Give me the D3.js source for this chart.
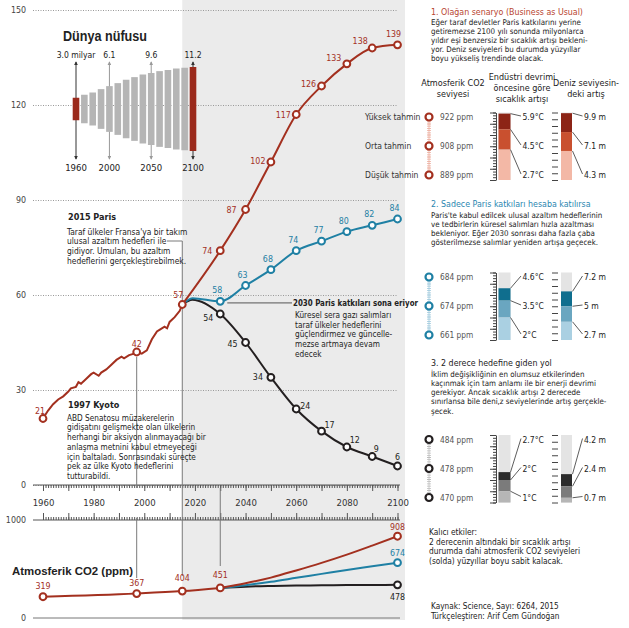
<!DOCTYPE html>
<html>
<head>
<meta charset="utf-8">
<script src="https://cdnjs.cloudflare.com/ajax/libs/d3/7.8.5/d3.min.js"></script>
<style>
  body { margin: 0; background: #fff; }
  text { font-family: "Liberation Sans Narrow", "Arial Narrow", "DejaVu Sans Condensed", sans-serif; fill: #222; }
</style>
</head>
<body>
<div id="chart"></div>
<script>
// ---- data ----

// historical emissions (GtCO2)
var histYears  = [1960,1962,1964,1966,1968,1970,1971,1973,1974,1975,1977,1979,1980,1982,1983,1985,1987,1989,1991,1992,1994,1996,1997,1999,2001,2003,2005,2006,2008,2009,2010,2012,2014,2015];
var histValues = [21,23.5,25.5,27,28,29.5,30.5,31,32.5,32,33.5,35,35.5,34.5,35.5,36.5,38,39.5,40.5,40,41,41.5,42,41.5,42.5,46,48.5,49,50,49.5,51.5,53,55,57];
var histMarked = [1960, 1997, 2015];

// scenario 1: business as usual
var bauYears  = [2015,2030,2040,2050,2060,2070,2080,2090,2100];
var bauValues = [57,74,87,102,117,126,133,138,139];
// scenario 2: only Paris pledges
var parisYears  = [2015,2019,2030,2040,2050,2060,2070,2080,2090,2100];
var parisValues = [57,59,58,63,68,74,77,80,82,84];
// scenario 3: 2 degree path
var twoYears  = [2015,2019,2030,2040,2050,2060,2070,2080,2090,2100];
var twoValues = [57,58.5,54,45,34,24,17,12,9,6];

// atmospheric CO2 (ppm)
var co2HistYears  = [1960,1997,2015,2030];
var co2HistValues = [319,367,404,451];
var co2Years = [2030,2040,2050,2060,2070,2080,2090,2100];
var co2Bau   = [451,492,542,605,672,745,825,908];
var co2Paris = [451,475,505,540,575,610,642,674];
var co2Two   = [451,462,468,472,474,476,477,478];

// world population (billions)
var popYears  = [1960,1970,1980,1990,2000,2010,2020,2030,2040,2050,2060,2070,2080,2090,2100];
var popValues = [3.0,3.8,4.4,5.3,6.1,6.9,7.8,8.5,9.2,9.6,10.1,10.4,10.8,11.0,11.2];
var popMarked = [1960,2000,2050,2100];
var popMarkedLabels = ["3.0 milyar","6.1","9.6","11.2"];

// right panel: high / mid / low estimates per scenario
var scenarioCo2  = [[922,908,889],[684,674,661],[484,478,470]];
var scenarioTemp = [[5.9,4.5,2.7],[4.6,3.5,2],[2.7,2,1]];
var scenarioSea  = [[9.9,7.1,4.3],[7.2,5,2.7],[4.2,2.4,0.7]];
var estimateNames = ["Yüksek tahmin","Orta tahmin","Düşük tahmin"];

// label offsets [dx, dy]
var bauLabelOff   = [[-13,3],[-14,3],[-13,2],[-13,3],[-13,1],[-13,-3],[-12,-4],[-4,-8]];
var histLabelOff  = [[-3,-5],[0,-5],[-4,-7]];
var twoLabelOff   = [[-12,7],[-13,4],[-13,3],[9,0],[8,-3],[8,-4],[4,-5],[0,-6]];

var RED = "#a3301f", BLUE = "#1f80a4", BLACK = "#231f20";

var svg = d3.select("#chart").append("svg").attr("width", 629).attr("height", 628);

var defs = svg.append("defs");
[["arrDark","#333"],["arrGrey","#999"]].forEach(function(m) {
  defs.append("marker").attr("id", m[0]).attr("viewBox", "0 0 6 6")
    .attr("refX", 5).attr("refY", 3).attr("markerWidth", 4).attr("markerHeight", 4)
    .attr("orient", "auto-start-reverse")
    .append("path").attr("d", "M0,0L6,3L0,6Z").attr("fill", m[1]);
});

// scales
var x = d3.scaleLinear().domain([1960, 2100]).range([43, 397.5]);
var y = d3.scaleLinear().domain([0, 150]).range([485, 10]);
var yCo2 = d3.scaleLinear().domain([0, 450, 910, 1000]).range([618, 588, 536, 520]);

// grey future panel
svg.append("rect").attr("x", x(2015)).attr("y", 0)
  .attr("width", 405 - x(2015)).attr("height", 620).attr("fill", "#ebebeb");

// y gridlines
svg.append("g").attr("transform", "translate(33,0)")
  .call(d3.axisLeft(y).tickValues([0,30,60,90,120,150]).tickSize(-365).tickPadding(7))
  .call(function(g) {
    g.select(".domain").remove();
    g.selectAll(".tick line").attr("stroke", "#999").attr("stroke-dasharray", "1,1.5");
    g.selectAll(".tick text").attr("font-size", 8.8).style("fill", "#444");
  });

// main x axis (ticks down)
var axMain = svg.append("g").attr("transform", "translate(0,485)");
axMain.append("g").call(d3.axisBottom(x).tickValues(d3.range(1960, 2101, 1)).tickSize(3).tickFormat(""));
axMain.append("g").call(d3.axisBottom(x).tickValues(d3.range(1960, 2101, 10)).tickSize(6).tickFormat(""));
axMain.append("g").call(d3.axisBottom(x).tickValues(d3.range(1960, 2101, 20)).tickSize(0).tickPadding(14).tickFormat(d3.format("d")));
axMain.selectAll(".domain").remove();
axMain.selectAll("line").attr("stroke", "#555");
axMain.selectAll("text").attr("font-size", 9.5).style("fill", "#333");
svg.append("line").attr("x1", 33).attr("x2", 400).attr("y1", 485).attr("y2", 485).attr("stroke", "#555");

// CO2 axis (ticks up)
var axCo2 = svg.append("g").attr("transform", "translate(0,520)");
axCo2.append("g").call(d3.axisTop(x).tickValues(d3.range(1960, 2101, 1)).tickSize(3).tickFormat(""));
axCo2.append("g").call(d3.axisTop(x).tickValues(d3.range(1960, 2101, 10)).tickSize(7).tickFormat(""));
axCo2.selectAll(".domain").remove();
axCo2.selectAll("line").attr("stroke", "#555");
svg.append("line").attr("x1", 33).attr("x2", 400).attr("y1", 520).attr("y2", 520).attr("stroke", "#555");
svg.append("line").attr("x1", 33).attr("x2", 400).attr("y1", yCo2(0)).attr("y2", yCo2(0)).attr("stroke", "#777");
[0, 1000].forEach(function(v) {
  svg.append("text").attr("x", 26).attr("y", yCo2(v) + 3).attr("text-anchor", "end")
    .attr("font-size", 8.8).style("fill", "#444").text(v);
});

// event lines
var grey = "#7a7a7a";
svg.append("line").attr("x1", 167).attr("x2", x(2015)).attr("y1", 241).attr("y2", 241).attr("stroke", grey);
svg.append("line").attr("x1", x(2015)).attr("x2", x(2015)).attr("y1", 241).attr("y2", 576).attr("stroke", grey);
svg.append("line").attr("x1", x(1997)).attr("x2", x(1997)).attr("y1", 357).attr("y2", 488).attr("stroke", grey);
svg.append("line").attr("x1", x(1997)).attr("x2", x(1997)).attr("y1", 518).attr("y2", 578).attr("stroke", grey);
svg.append("line").attr("x1", x(2030)).attr("x2", x(2030)).attr("y1", 488).attr("y2", 566).attr("stroke", grey);
svg.append("line").attr("x1", x(2030) + 7).attr("x2", 292).attr("y1", y(57.5)).attr("y2", y(57.5)).attr("stroke", "#555");

// ---- population inset ----
var px = d3.scaleLinear().domain([1960, 2100]).range([76, 193]);
var ph = d3.scaleLinear().domain([0, 11.2]).range([0, 84]);
var popMid = 109;
popMarked.forEach(function(yr, i) {
  var dark = (yr === 1960 || yr === 2100);
  svg.append("line").attr("x1", px(yr)).attr("x2", px(yr)).attr("y1", 62).attr("y2", 159)
    .attr("stroke", dark ? "#333" : "#999")
    .attr("marker-start", dark ? "url(#arrDark)" : "url(#arrGrey)")
    .attr("marker-end", dark ? "url(#arrDark)" : "url(#arrGrey)");
  svg.append("text").attr("x", px(yr)).attr("y", 58).attr("text-anchor", "middle")
    .attr("font-size", 8.5).text(popMarkedLabels[i]);
  svg.append("text").attr("x", px(yr)).attr("y", 171).attr("text-anchor", "middle")
    .attr("font-size", 9.5).text(yr);
});
svg.selectAll(".popbar").data(popYears).enter().append("rect")
  .attr("x", function(d) { return px(d) - 3.3; })
  .attr("width", 6.6)
  .attr("y", function(d, i) { return popMid - ph(popValues[i]) / 2; })
  .attr("height", function(d, i) { return ph(popValues[i]); })
  .attr("fill", function(d, i) { return (i === 0 || i === popYears.length - 1) ? "#9b2a1c" : "#b5b5b5"; });
svg.append("text").attr("x", 63).attr("y", 41).attr("font-size", 14).attr("font-weight", "bold")
  .attr("textLength", 84).attr("lengthAdjust", "spacingAndGlyphs")
  .style("font-family", "'Liberation Sans', Arial, sans-serif").text("Dünya nüfusu");

// ---- emission lines ----
function zip(a, b) { return a.map(function(v, i) { return [v, b[i]]; }); }
var straight = d3.line().x(function(d) { return x(d[0]); }).y(function(d) { return y(d[1]); });
var smooth = d3.line().x(function(d) { return x(d[0]); }).y(function(d) { return y(d[1]); }).curve(d3.curveMonotoneX);

svg.append("path").attr("d", smooth(zip(twoYears, twoValues))).attr("fill", "none").attr("stroke", BLACK).attr("stroke-width", 2);
svg.append("path").attr("d", smooth(zip(parisYears, parisValues))).attr("fill", "none").attr("stroke", BLUE).attr("stroke-width", 2);
svg.append("path").attr("d", straight(zip(histYears, histValues))).attr("fill", "none").attr("stroke", RED).attr("stroke-width", 2);
svg.append("path").attr("d", smooth(zip(bauYears, bauValues))).attr("fill", "none").attr("stroke", RED).attr("stroke-width", 2);

function dots(years, values, color, offsets) {
  years.forEach(function(yr, i) {
    svg.append("circle").attr("cx", x(yr)).attr("cy", y(values[i])).attr("r", 3.4)
      .attr("fill", "#fff").attr("stroke", color).attr("stroke-width", 2);
    svg.append("text").attr("x", x(yr) + offsets[i][0]).attr("y", y(values[i]) + offsets[i][1])
      .attr("text-anchor", "middle").attr("font-size", 8.8).style("fill", color).text(values[i]);
  });
}
dots(twoYears.slice(2), twoValues.slice(2), BLACK, twoLabelOff);
dots(parisYears.slice(2), parisValues.slice(2), BLUE, parisValues.slice(2).map(function() { return [-3, -8]; }));
dots(histMarked, histMarked.map(function(yr) { return histValues[histYears.indexOf(yr)]; }), RED, histLabelOff);
dots(bauYears.slice(1), bauValues.slice(1), RED, bauLabelOff);

// ---- CO2 chart ----
var co2Line = d3.line().x(function(d) { return x(d[0]); }).y(function(d) { return yCo2(d[1]); }).curve(d3.curveMonotoneX);
svg.append("path").attr("d", co2Line(zip(co2Years, co2Two))).attr("fill", "none").attr("stroke", BLACK).attr("stroke-width", 2);
svg.append("path").attr("d", co2Line(zip(co2Years, co2Paris))).attr("fill", "none").attr("stroke", BLUE).attr("stroke-width", 2);
svg.append("path").attr("d", co2Line(zip(co2HistYears, co2HistValues))).attr("fill", "none").attr("stroke", RED).attr("stroke-width", 2);
svg.append("path").attr("d", co2Line(zip(co2Years, co2Bau))).attr("fill", "none").attr("stroke", RED).attr("stroke-width", 2);

function co2Dot(yr, v, color, dy) {
  svg.append("circle").attr("cx", x(yr)).attr("cy", yCo2(v)).attr("r", 3.4)
    .attr("fill", "#fff").attr("stroke", color).attr("stroke-width", 2);
  svg.append("text").attr("x", x(yr)).attr("y", yCo2(v) + dy).attr("text-anchor", "middle")
    .attr("font-size", 8.8).style("fill", color).text(v);
}
var co2HistDy = [-8, -8, -10, -10];
co2HistYears.forEach(function(yr, i) { co2Dot(yr, co2HistValues[i], RED, co2HistDy[i]); });
var last = co2Years.length - 1;
co2Dot(co2Years[last], co2Bau[last], RED, -6);
co2Dot(co2Years[last], co2Paris[last], BLUE, -7);
co2Dot(co2Years[last], co2Two[last], BLACK, 15);

svg.append("text").attr("x", 12).attr("y", 574.5).attr("font-size", 11.5).attr("font-weight", "bold")
  .attr("textLength", 121).attr("lengthAdjust", "spacingAndGlyphs")
  .style("font-family", "'Liberation Sans', Arial, sans-serif").text("Atmosferik CO2 (ppm)");

// ---- annotations ----
function block(x0, y0, lines, lh, size, color, weight) {
  var t = svg.append("text").attr("font-size", size).style("fill", color || "#222");
  if (weight) t.attr("font-weight", weight);
  lines.forEach(function(l, i) {
    t.append("tspan").attr("x", x0).attr("y", y0 + i * lh).text(l);
  });
  return t;
}
block(68, 219.5, ["2015 Paris"], 0, 9, "#222", "bold");
block(67, 234.5, ["Taraf ülkeler Fransa'ya bir takım", "ulusal azaltım hedefleri ile",
  "gidiyor. Umulan, bu azaltım", "hedeflerini gerçekleştirebilmek."], 9.8, 8.4);
block(68, 408, ["1997 Kyoto"], 0, 9, "#222", "bold");
block(67, 420.7, ["ABD Senatosu müzakerelerin", "gidişatını gelişmekte olan ülkelerin",
  "herhangi bir aksiyon alınmayacağı bir", "anlaşma metnini kabul etmeyeceği",
  "için baltaladı.  Sonrasındaki süreçte", "pek az ülke Kyoto hedeflerini", "tutturabildi."], 9.7, 8.2);
block(293, 306, ["2030 Paris katkıları sona eriyor"], 0, 9.5, "#222", "bold")
  .select("tspan").attr("textLength", 125).attr("lengthAdjust", "spacingAndGlyphs");
block(295, 318, ["Küresel sera gazı salımları", "taraf ülkeler hedeflerini",
  "güçlendirmez ve güncelle-", "mezse artmaya devam", "edecek"], 9.7, 8.2);

// ---- right panel ----
var rx = 431;
block(rx, 14.5, ["1. Olağan senaryo (Business as Usual)"], 0, 8.8, "#b8452f");
block(rx, 24.5, ["Eğer taraf devletler Paris katkılarını yerine", "getiremezse 2100 yılı sonunda milyonlarca",
  "yıldır eşi benzersiz bir sıcaklık artışı bekleni-", "yor. Deniz seviyeleri bu durumda yüzyıllar",
  "boyu yükseliş trendinde olacak."], 9.2, 7.9);
block(rx, 207, ["2. Sadece Paris katkıları hesaba katılırsa"], 0, 8.8, "#2a86b0");
block(rx, 217.5, ["Paris'te kabul edilcek ulusal azaltım hedeflerinin", "ve tedbirlerin küresel salımları hızla azaltması",
  "bekleniyor. Eğer 2030 sonrası daha fazla çaba", "gösterilmezse salımlar yeniden artışa geçecek."], 9.3, 7.9);
block(rx, 366, ["3. 2 derece hedefine giden yol"], 0, 8.8, "#222");
block(rx, 376.5, ["İklim değişikliğinin en olumsuz etkilerinden", "kaçınmak için tam anlamı ile bir enerji devrimi",
  "gerekiyor. Ancak sıcaklık artışı 2 derecede", "sınırlansa bile deni,z seviyelerinde artış gerçekle-",
  "şecek."], 9.3, 7.9);
block(429, 535, ["Kalıcı etkiler:", "2 derecenin altındaki bir sıcaklık artışı",
  "durumda dahi atmosferik CO2 seviyeleri", "(solda) yüzyıllar boyu sabit kalacak."], 9.7, 8.3);
block(431, 609, ["Kaynak: Science, Sayı: 6264, 2015", "Türkçeleştiren: Arif Cem Gündoğan"], 9.8, 8.2);

// column headers
[[453, 85.7, ["Atmosferik CO2", "seviyesi"]], [522, 79.5, ["Endüstri devrimi", "öncesine göre", "sıcaklık artışı"]],
 [586, 85.7, ["Deniz seviyesin-", "deki artış"]]].forEach(function(h) {
  block(h[0], h[1], h[2], 11.3, 9).attr("text-anchor", "middle");
});

var panelBottoms = [180, 340, 502.5];
var palettes = [
  { dot: RED,   ladder: "#eba99a", seg: ["#8c2416", "#c9502f", "#f3b8a6"] },
  { dot: BLUE,  ladder: "#9cc8dc", seg: ["#0f6e8e", "#6aa6c0", "#aad0e2"] },
  { dot: BLACK, ladder: "#bdbdbd", seg: ["#2b2b2b", "#7b7b7b", "#b6b6b6"] }
];
var barH = 67.5;

scenarioTemp.forEach(function(temps, s) {
  var b = panelBottoms[s], pal = palettes[s];
  var rows = [b - 63, b - 34, b - 5];
  var ty = d3.scaleLinear().domain([0, 6]).range([b, b - barH]);
  var sy = d3.scaleLinear().domain([0, 10]).range([b, b - barH]);

  // CO2 ladder
  svg.append("line").attr("x1", 429).attr("x2", 429).attr("y1", rows[0]).attr("y2", rows[2])
    .attr("stroke", pal.ladder).attr("stroke-width", 4).attr("stroke-dasharray", "0.8,1.4");
  svg.append("line").attr("x1", 429).attr("x2", 429).attr("y1", rows[0]).attr("y2", rows[2])
    .attr("stroke", pal.ladder).attr("stroke-width", 0.8);
  scenarioCo2[s].forEach(function(v, i) {
    svg.append("circle").attr("cx", 429).attr("cy", rows[i]).attr("r", 3.5)
      .attr("fill", "#fff").attr("stroke", pal.dot).attr("stroke-width", 2.2);
    svg.append("text").attr("x", 440).attr("y", rows[i] + 3).attr("font-size", 8.3)
      .style("fill", "#555").text(v + " ppm");
    if (s === 0) {
      svg.append("text").attr("x", 365).attr("y", rows[i] + 3).attr("font-size", 8.5)
        .style("fill", "#333").text(estimateNames[i]);
    }
  });

  // temperature gauge
  var tg = svg.append("g").attr("transform", "translate(496,0)");
  tg.append("g").call(d3.axisLeft(ty).tickValues(d3.range(0, 6.01, 0.25)).tickSize(3).tickFormat("").tickSizeOuter(0));
  tg.append("g").call(d3.axisLeft(ty).tickValues(d3.range(0, 6.01, 1)).tickSize(6).tickFormat("")).select(".domain").remove();
  tg.selectAll("line, path").attr("stroke", "#444");
  svg.append("rect").attr("x", 498.5).attr("width", 12).attr("y", ty(6)).attr("height", ty(0) - ty(6)).attr("fill", "#e4e4e4");
  temps.forEach(function(v, i) {
    var lo = i < temps.length - 1 ? temps[i + 1] : 0;
    svg.append("rect").attr("x", 498.5).attr("width", 12).attr("y", ty(v)).attr("height", ty(lo) - ty(v)).attr("fill", pal.seg[i]);
  });
  temps.forEach(function(v, i) {
    svg.append("line").attr("x1", 510.5).attr("y1", ty(v)).attr("x2", 521).attr("y2", rows[i] - 1)
      .attr("stroke", "#333").attr("stroke-width", 0.8);
    svg.append("text").attr("x", 522.5).attr("y", rows[i] + 3).attr("font-size", 8.5).text(v + "°C");
  });

  // sea level gauge
  var sg = svg.append("g").attr("transform", "translate(558,0)");
  sg.call(d3.axisLeft(sy).tickValues(d3.range(0, 10.01, 1)).tickSize(6).tickFormat(""));
  sg.select(".domain").remove();
  sg.selectAll("line").attr("stroke", "#444");
  svg.append("rect").attr("x", 561).attr("width", 11).attr("y", sy(10)).attr("height", sy(0) - sy(10)).attr("fill", "#e4e4e4");
  var sea = scenarioSea[s];
  sea.forEach(function(v, i) {
    var lo = i < sea.length - 1 ? sea[i + 1] : 0;
    svg.append("rect").attr("x", 561).attr("width", 11).attr("y", sy(v)).attr("height", sy(lo) - sy(v)).attr("fill", pal.seg[i]);
  });
  sea.forEach(function(v, i) {
    svg.append("line").attr("x1", 572.5).attr("y1", sy(v)).attr("x2", 582.5).attr("y2", rows[i] - 1)
      .attr("stroke", "#333").attr("stroke-width", 0.8);
    svg.append("text").attr("x", 584).attr("y", rows[i] + 3).attr("font-size", 8.5).text(v + " m");
  });
});
</script>
</body>
</html>
